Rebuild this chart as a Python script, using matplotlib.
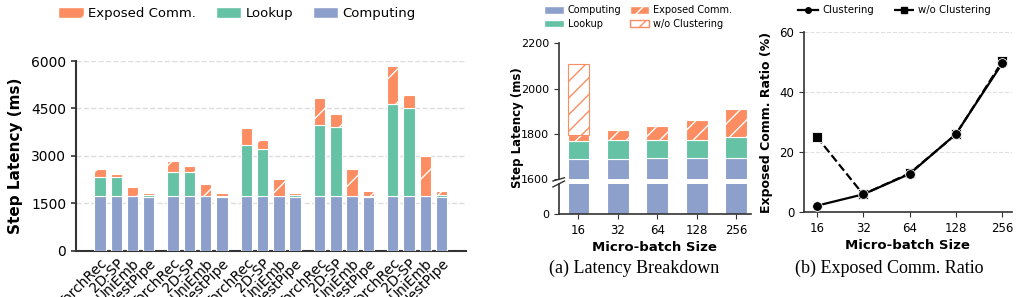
import numpy as np
import matplotlib
matplotlib.use('Agg')
import matplotlib.pyplot as plt
from matplotlib.patches import Patch
from matplotlib.lines import Line2D

# left panel: 5 groups x 4 methods
methods = ['TorchRec', '2D-SP', 'UniEmb', 'NestPipe']
computing = [[1720, 1720, 1720, 1700],
             [1720, 1720, 1720, 1700],
             [1720, 1720, 1720, 1705],
             [1720, 1720, 1720, 1695],
             [1720, 1720, 1720, 1700]]
lookup = [[620, 610, 20, 50],
          [780, 780, 20, 30],
          [1630, 1500, 20, 45],
          [2260, 2205, 20, 50],
          [2910, 2800, 20, 50]]
exposed = [[233, 110, 280, 60],
           [330, 170, 360, 110],
           [530, 280, 520, 90],
           [860, 395, 846, 128],
           [1200, 415, 1250, 145]]

# middle / right panels
mb_sizes = ['16', '32', '64', '128', '256']
mb_computing = [1690, 1691, 1696, 1693, 1696]
mb_lookup = [81, 83, 76, 82, 91]
mb_exposed = [26, 42, 62, 85, 122]
mb_exposed_wo = [336, 42, 62, 85, 122]
ratio_clustering = [2.2, 6.0, 12.8, 26.1, 49.7]
ratio_wo = [25.2, 6.0, 13.0, 26.0, 50.3]

c_comp = '#8da0cb'
c_look = '#66c2a5'
c_exp = '#fc8d62'
spine_c = '#333333'

plt.rcParams['hatch.linewidth'] = 1.0

fig = plt.figure(figsize=(10.18, 2.97), dpi=100)

# ---------------- left panel ----------------
ax = fig.add_axes([0.0747, 0.156, 0.383, 0.6386])
xs, labels = [], []
comp_f, look_f, exp_f = [], [], []
for g in range(5):
    for i in range(4):
        xs.append(g * 4.5 + i)
        labels.append(methods[i])
        comp_f.append(computing[g][i])
        look_f.append(lookup[g][i])
        exp_f.append(exposed[g][i])
xs = np.array(xs)
comp_f = np.array(comp_f)
look_f = np.array(look_f)
exp_f = np.array(exp_f)
w = 0.7
ax.bar(xs, comp_f, w, color=c_comp, edgecolor='white', linewidth=0.8, zorder=3)
ax.bar(xs, look_f, w, bottom=comp_f, color=c_look, edgecolor='white', linewidth=0.8, zorder=3)
ax.bar(xs, exp_f, w, bottom=comp_f + look_f, color=c_exp, edgecolor='white',
       linewidth=0.8, hatch='/', zorder=3)
ax.set_xlim(-1.47, 22.5)
ax.set_ylim(0, 6000)
ax.set_yticks([0, 1500, 3000, 4500, 6000])
ax.yaxis.grid(True, linestyle='--', color='#dddddd', linewidth=1, zorder=0)
ax.set_xticks(xs)
ax.set_xticklabels(labels, rotation=45, ha='right', rotation_mode='anchor', fontsize=10)
ax.tick_params(axis='x', length=0, pad=4)
ax.tick_params(axis='y', labelsize=10, color=spine_c, width=1.2)
ax.set_ylabel('Step Latency (ms)', fontsize=11, fontweight='bold', labelpad=6)
for s in ['top', 'right']:
    ax.spines[s].set_visible(False)
for s in ['left', 'bottom']:
    ax.spines[s].set_color(spine_c)
    ax.spines[s].set_linewidth(1.5)
handles = [Patch(facecolor=c_exp, edgecolor='white', hatch='/', label='Exposed Comm.'),
           Patch(facecolor=c_look, edgecolor='white', label='Lookup'),
           Patch(facecolor=c_comp, edgecolor='white', label='Computing')]
fig.legend(handles=handles, loc='center', bbox_to_anchor=(0.233, 0.953), ncol=3,
           frameon=False, fontsize=9.5, handlelength=1.9, handleheight=0.9,
           columnspacing=1.5, handletextpad=0.35)

# ---------------- middle panel (broken axis) ----------------
xm = np.arange(len(mb_sizes))
mw = 0.55
mc = np.array(mb_computing)
ml = np.array(mb_lookup)
me = np.array(mb_exposed)
mwo = np.array(mb_exposed_wo)
ax_up = fig.add_axes([0.5488, 0.396, 0.1886, 0.458])
ax_lo = fig.add_axes([0.5488, 0.2795, 0.1886, 0.101])
for a in (ax_up, ax_lo):
    a.bar(xm, mc, mw, color=c_comp, edgecolor='white', linewidth=0.8)
    a.bar(xm, ml, mw, bottom=mc, color=c_look, edgecolor='white', linewidth=0.8)
    a.bar(xm, me, mw, bottom=mc + ml, color=c_exp, edgecolor='white', linewidth=0.8, hatch='//')
    extra = mwo - me
    sel = extra > 0
    a.bar(xm[sel], extra[sel], mw, bottom=(mc + ml + me)[sel], color='white',
          edgecolor=c_exp, linewidth=0.8, hatch='//')
    a.set_xlim(-0.5, 4.37)
    for s in ['top', 'right']:
        a.spines[s].set_visible(False)
    for s in ['left', 'bottom']:
        a.spines[s].set_color(spine_c)
        a.spines[s].set_linewidth(1.2)
    a.tick_params(labelsize=8, color=spine_c)
ax_up.set_ylim(1600, 2200)
ax_up.set_yticks([1600, 1800, 2000, 2200])
ax_up.spines['bottom'].set_visible(False)
ax_up.tick_params(axis='x', bottom=False, labelbottom=False)
ax_lo.set_ylim(0, 1600)
ax_lo.set_yticks([0])
ax_lo.set_xticks(xm)
ax_lo.set_xticklabels(mb_sizes, fontsize=8.5)
ax_lo.set_xlabel('Micro-batch Size', fontsize=9.5, fontweight='bold', labelpad=3)
ax_up.plot([-0.03, 0.03], [-0.012, 0.012], transform=ax_up.transAxes, color=spine_c,
           linewidth=1, clip_on=False)
ax_lo.plot([-0.03, 0.03], [0.9, 1.1], transform=ax_lo.transAxes, color=spine_c,
           linewidth=1, clip_on=False)
fig.text(0.508, 0.57, 'Step Latency (ms)', rotation=90, ha='center', va='center',
         fontsize=8.5, fontweight='bold')
mh = [Patch(facecolor=c_comp, edgecolor='white', label='Computing'),
      Patch(facecolor=c_look, edgecolor='white', label='Lookup'),
      Patch(facecolor=c_exp, edgecolor='white', hatch='//', label='Exposed Comm.'),
      Patch(facecolor='white', edgecolor=c_exp, hatch='//', label='w/o Clustering')]
fig.legend(handles=mh, loc='center', bbox_to_anchor=(0.627, 0.943), ncol=2,
           frameon=False, fontsize=7, handlelength=2.0, handleheight=0.8,
           columnspacing=0.9, handletextpad=0.4, labelspacing=0.35)
fig.text(0.623, 0.098, '(a) Latency Breakdown', ha='center', va='center',
         fontsize=13, family='Liberation Serif')

# ---------------- right panel ----------------
ax_r = fig.add_axes([0.790, 0.285, 0.2037, 0.606])
xr = np.arange(len(mb_sizes))
ax_r.plot(xr, ratio_wo, color='black', linestyle='--', linewidth=1.6, marker='s',
          markersize=6.5, markeredgecolor='white', markeredgewidth=0.6, zorder=3)
ax_r.plot(xr, ratio_clustering, color='black', linestyle='-', linewidth=1.6, marker='o',
          markersize=7, markeredgecolor='white', markeredgewidth=0.6, zorder=4)
ax_r.set_xlim(-0.27, 4.2)
ax_r.set_ylim(0, 60)
ax_r.set_yticks([0, 20, 40, 60])
ax_r.set_xticks(xr)
ax_r.set_xticklabels(mb_sizes)
ax_r.yaxis.grid(True, linestyle='--', color='#e0e0e0', linewidth=0.8, zorder=0)
ax_r.tick_params(labelsize=8.5, color=spine_c)
ax_r.set_xlabel('Micro-batch Size', fontsize=9.5, fontweight='bold', labelpad=3)
ax_r.set_ylabel('Exposed Comm. Ratio (%)', fontsize=9, fontweight='bold', labelpad=5)
for s in ['top', 'right']:
    ax_r.spines[s].set_visible(False)
for s in ['left', 'bottom']:
    ax_r.spines[s].set_color(spine_c)
    ax_r.spines[s].set_linewidth(1.2)
rh = [Line2D([0], [0], color='black', linestyle='-', marker='o', markersize=4, linewidth=1.6,
             label='Clustering'),
      Line2D([0], [0], color='black', linestyle='--', marker='s', markersize=4, linewidth=1.6,
             label='w/o Clustering')]
fig.legend(handles=rh, loc='center', bbox_to_anchor=(0.8787, 0.966), ncol=2, frameon=False,
           fontsize=7.3, handlelength=2.0, columnspacing=2.0, handletextpad=0.4)
fig.text(0.874, 0.098, '(b) Exposed Comm. Ratio', ha='center', va='center',
         fontsize=13, family='Liberation Serif')

fig.savefig('out.png', dpi=100)
